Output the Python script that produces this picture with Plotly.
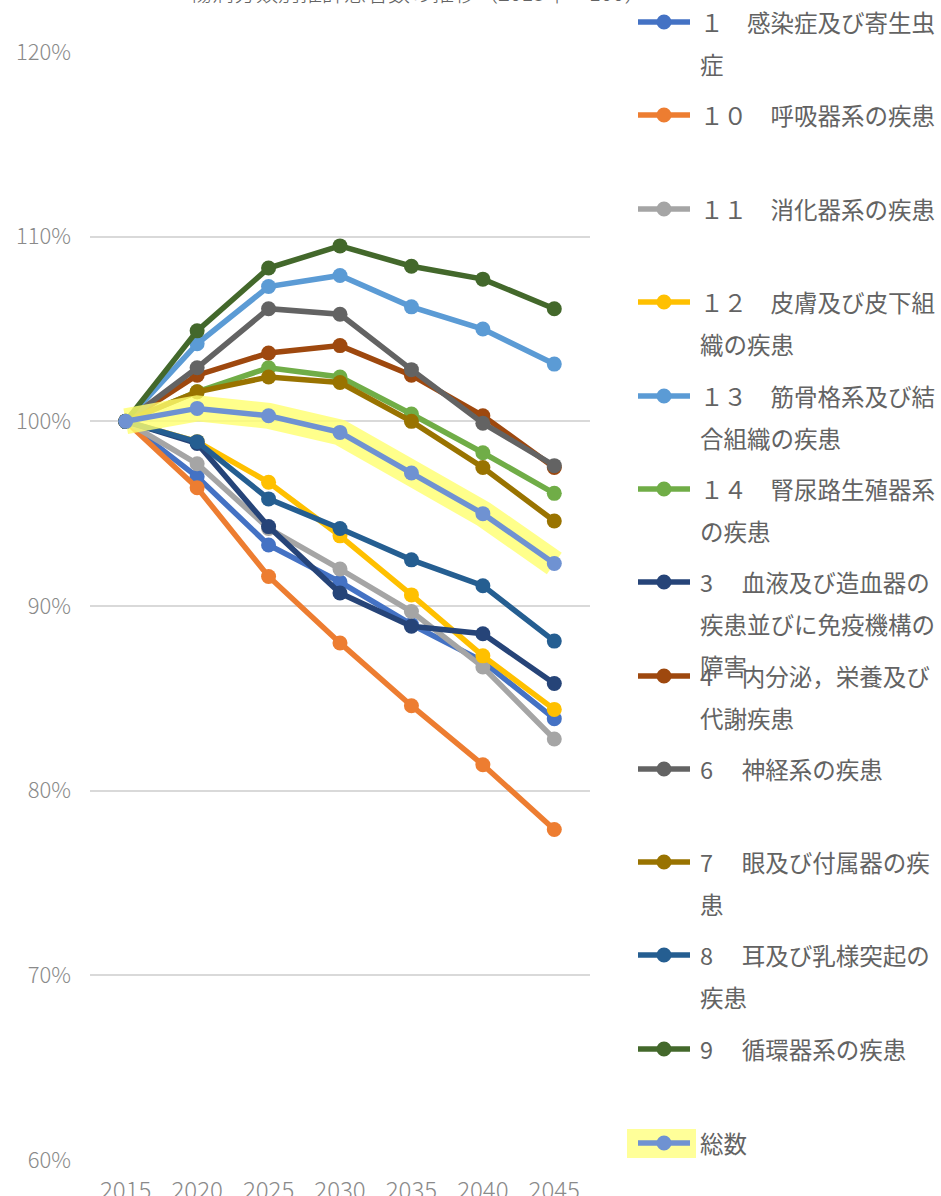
import plotly.graph_objects as go

# 年次（カテゴリ）
years = ["2015", "2020", "2025", "2030", "2035", "2040", "2045"]

# 2015年を100%とした推計患者数の推移（%）
s01 = [100, 97.0, 93.3, 91.3, 89.0, 87.0, 83.9]
s10 = [100, 96.4, 91.6, 88.0, 84.6, 81.4, 77.9]
s11 = [100, 97.7, 94.2, 92.0, 89.7, 86.7, 82.8]
s12 = [100, 98.9, 96.7, 93.8, 90.6, 87.3, 84.4]
s13 = [100, 104.2, 107.3, 107.9, 106.2, 105.0, 103.1]
s14 = [100, 101.6, 102.9, 102.4, 100.4, 98.3, 96.1]
s03 = [100, 98.8, 94.3, 90.7, 88.9, 88.5, 85.8]
s04 = [100, 102.5, 103.7, 104.1, 102.5, 100.3, 97.5]
s06 = [100, 102.9, 106.1, 105.8, 102.8, 99.9, 97.6]
s07 = [100, 101.6, 102.4, 102.1, 100.0, 97.5, 94.6]
s08 = [100, 98.9, 95.8, 94.2, 92.5, 91.1, 88.1]
s09 = [100, 104.9, 108.3, 109.5, 108.4, 107.7, 106.1]
total = [100, 100.7, 100.3, 99.4, 97.2, 95.0, 92.3]

# 凡例ラベル（行ごと）
labels = [
    ["１　感染症及び寄生虫", "症"],
    ["１０　呼吸器系の疾患"],
    ["１１　消化器系の疾患"],
    ["１２　皮膚及び皮下組", "織の疾患"],
    ["１３　筋骨格系及び結", "合組織の疾患"],
    ["１４　腎尿路生殖器系", "の疾患"],
    ["3\u3000\u00a0血液及び造血器の", "疾患並びに免疫機構の", "障害"],
    ["4\u3000\u00a0内分泌，栄養及び", "代謝疾患"],
    ["6\u3000\u00a0神経系の疾患"],
    ["7\u3000\u00a0眼及び付属器の疾", "患"],
    ["8\u3000\u00a0耳及び乳様突起の", "疾患"],
    ["9\u3000\u00a0循環器系の疾患"],
    ["総数"],
]

series = [s01, s10, s11, s12, s13, s14, s03, s04, s06, s07, s08, s09, total]
colors = ["#4472C4", "#ED7D31", "#A5A5A5", "#FFC000", "#5B9BD5", "#70AD47",
          "#264478", "#9E480E", "#636363", "#997300", "#255E91", "#43682B",
          "#6F92D2"]

FONT = "Noto Sans CJK JP"
TEXT = "#636363"
TICK = "#8a8a8a"
W, H = 941, 1196
L, R, T, B = 90, 590, 52, 1160

fig = go.Figure()

for i, (vals, col) in enumerate(zip(series, colors)):
    name = "".join(labels[i])
    if i == len(series) - 1:
        # 総数の光彩（黄色の帯）
        fig.add_trace(go.Scatter(
            x=years, y=vals, mode="lines",
            line=dict(color="rgba(255,255,110,0.8)", width=26),
            hoverinfo="skip", showlegend=False))
    fig.add_trace(go.Scatter(
        x=years, y=vals, mode="lines+markers", name=name,
        line=dict(color=col, width=5.5),
        marker=dict(color=col, size=15),
        showlegend=False))


def px_x(px):
    return (px - L) / (R - L)


def px_y(py):
    return (B - py) / (B - T)


shapes = []
annotations = []

# 凡例（手描き）
row_y = [22, 115, 209, 302, 396, 489, 582, 676, 769, 862, 955, 1049, 1143]
for i, (lines, col) in enumerate(zip(labels, colors)):
    y0 = row_y[i]
    if i == len(labels) - 1:
        shapes.append(dict(type="rect", xref="paper", yref="paper",
                           x0=px_x(627), x1=px_x(696), y0=px_y(1158), y1=px_y(1129),
                           fillcolor="#FFFF99", line=dict(width=0), layer="above"))
    shapes.append(dict(type="line", xref="paper", yref="paper",
                       x0=px_x(638), x1=px_x(690), y0=px_y(y0), y1=px_y(y0),
                       line=dict(color=col, width=5.5), layer="above"))
    shapes.append(dict(type="circle", xref="paper", yref="paper",
                       x0=px_x(656.5), x1=px_x(671.5), y0=px_y(y0 + 7.5), y1=px_y(y0 - 7.5),
                       fillcolor=col, line=dict(width=0), layer="above"))
    for k, txt in enumerate(lines):
        annotations.append(dict(
            text=txt, xref="paper", yref="paper",
            x=px_x(698), y=px_y(y0 + 42 * k),
            xanchor="left", yanchor="middle", showarrow=False,
            font=dict(family=FONT, size=23.5, color=TEXT)))

# タイトル
annotations.append(dict(
    text="傷病分類別推計患者数の推移（2015年＝100）",
    xref="paper", yref="paper", x=px_x(418), y=px_y(9),
    xanchor="center", yanchor="bottom", showarrow=False,
    font=dict(family=FONT, size=22, color=TEXT, weight=300)))

fig.update_layout(
    width=W, height=H,
    margin=dict(l=L, r=W - R, t=T, b=H - B, pad=0, autoexpand=False),
    paper_bgcolor="white", plot_bgcolor="white",
    showlegend=False,
    shapes=shapes, annotations=annotations,
    font=dict(family=FONT, color=TICK),
)
fig.update_xaxes(
    type="category", range=[-0.5, 6.5], automargin=False,
    showgrid=False, showline=False, zeroline=False,
    ticks="", tickfont=dict(family=FONT, size=24, color=TICK, weight=300),
    ticklabelstandoff=14,
)
fig.update_yaxes(
    range=[60, 120], dtick=10, ticksuffix="%", automargin=False,
    showgrid=True, gridcolor="#D9D9D9", gridwidth=2,
    zeroline=False, showline=False, ticks="",
    tickfont=dict(family=FONT, size=22, color=TICK, weight=300),
    ticklabelstandoff=18,
)

fig.write_html("out.html")
